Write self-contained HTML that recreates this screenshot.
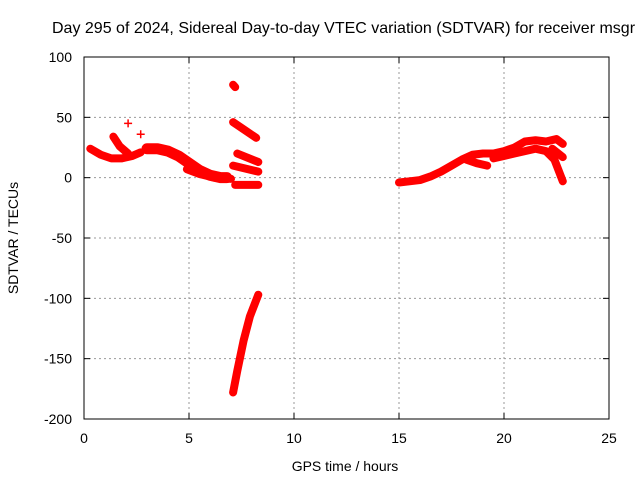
<!DOCTYPE html>
<html><head><meta charset="utf-8"><style>
body{margin:0;background:#fff;width:640px;height:480px;overflow:hidden}
svg text{font-family:"Liberation Sans",sans-serif;font-size:14px;fill:#000}
</style></head><body>
<svg id="chart" width="640" height="480" xmlns="http://www.w3.org/2000/svg">
<text x="52" y="33" style="font-size:16px">Day 295 of 2024, Sidereal Day-to-day VTEC variation (SDTVAR) for receiver msgr</text>
<g id="grid"></g>
<g id="series"></g>
<rect x="84" y="57" width="525" height="362" fill="none" stroke="#000" stroke-width="1"/>
<g id="ticks"></g>
<text x="345" y="471" text-anchor="middle">GPS time / hours</text>
<text transform="translate(18,238) rotate(-90)" text-anchor="middle">SDTVAR / TECUs</text>
</svg>
<script>
const xTicks=[0,5,10,15,20,25];
const yTicks=[100,50,0,-50,-100,-150,-200];
const segA=[[0.3,24],[0.8,19],[1.3,16],[1.8,16],[2.3,18],[2.7,21]];
const segB=[[1.4,34],[1.7,26],[2.1,20]];
const segC=[[3.0,24],[3.5,24],[4.0,22],[4.5,18],[5.0,12],[5.5,6],[6.0,2],[6.5,0],[6.8,0]];
const segD=[[4.9,7],[5.5,3],[6.2,0],[7.0,-1]];
const segE=[[7.1,77],[7.2,75]];
const segF=[[7.1,46],[8.2,33]];
const segG=[[7.3,20],[8.3,13]];
const segH=[[7.1,10],[8.3,5]];
const segI=[[7.2,-6],[8.3,-6]];
const segJ=[[7.1,-178],[7.3,-160],[7.6,-135],[7.9,-115],[8.3,-97]];
const segK=[[15.0,-4],[15.5,-3],[16.0,-2],[16.5,1],[17.0,5],[17.5,10],[18.0,15],[18.5,19],[19.0,20],[19.5,20],[20.0,22],[20.5,25],[21.0,30],[21.5,31],[22.0,30],[22.5,32],[22.8,28]];
const segL=[[18.2,15],[18.7,12],[19.2,10]];
const segM=[[19.5,16],[20.0,18],[20.5,20],[21.0,22],[21.5,24],[22.0,22],[22.4,15],[22.8,-3]];
const segN=[[22.3,24],[22.8,17]];
const singles=[[2.1,45],[2.7,36]];
const allSegs=[segA,segB,segC,segD,segE,segF,segG,segH,segI,segJ,segK,segL,segM,segN];
const X=h=>84+h*525/25;
const Y=v=>57+(100-v)*362/300;
const NS="http://www.w3.org/2000/svg";
const grid=document.getElementById('grid'),ticks=document.getElementById('ticks'),ser=document.getElementById('series');
function mk(t,a,p){const e=document.createElementNS(NS,t);for(const k in a)e.setAttribute(k,a[k]);p.appendChild(e);return e;}
xTicks.forEach(t=>{
 if(t>0&&t<25){const l=mk('line',{x1:X(t),x2:X(t),y1:57,y2:419,stroke:'#999','stroke-dasharray':'2,3'},grid);
 
 }
 const a=mk('line',{x1:X(t),x2:X(t),y1:419,y2:413,stroke:'#000'},ticks);
 
 
 const b=mk('line',{x1:X(t),x2:X(t),y1:57,y2:63,stroke:'#000'},ticks);
 
 
 const tx=mk('text',{x:X(t),y:443,'text-anchor':'middle'},ticks);tx.textContent=t;
 
 
});
yTicks.forEach(t=>{
 if(t<100&&t>-200){const l=mk('line',{x1:84,x2:609,y1:Y(t),y2:Y(t),stroke:'#999','stroke-dasharray':'2,3'},grid);
 
 }
 const a=mk('line',{x1:84,x2:90,y1:Y(t),y2:Y(t),stroke:'#000'},ticks);
 
 
 const b=mk('line',{x1:603,x2:609,y1:Y(t),y2:Y(t),stroke:'#000'},ticks);
 
 
 const tx=mk('text',{x:72,y:Y(t)+5,'text-anchor':'end'},ticks);tx.textContent=t;
 
 
});
allSegs.forEach(s=>{
 const w=(s===segC)?11:8;
 const p=mk('polyline',{points:s.map(d=>X(d[0])+','+Y(d[1])).join(' '),fill:'none',stroke:'#f00','stroke-width':w,'stroke-linejoin':'round','stroke-linecap':'round'},ser);
 
 
});
singles.forEach(d=>{
 const g=mk('path',{d:`M${X(d[0])-4},${Y(d[1])}h8M${X(d[0])},${Y(d[1])-4}v8`,stroke:'#f00','stroke-width':1.5},ser);
 
 
});
</script>
</body></html>
